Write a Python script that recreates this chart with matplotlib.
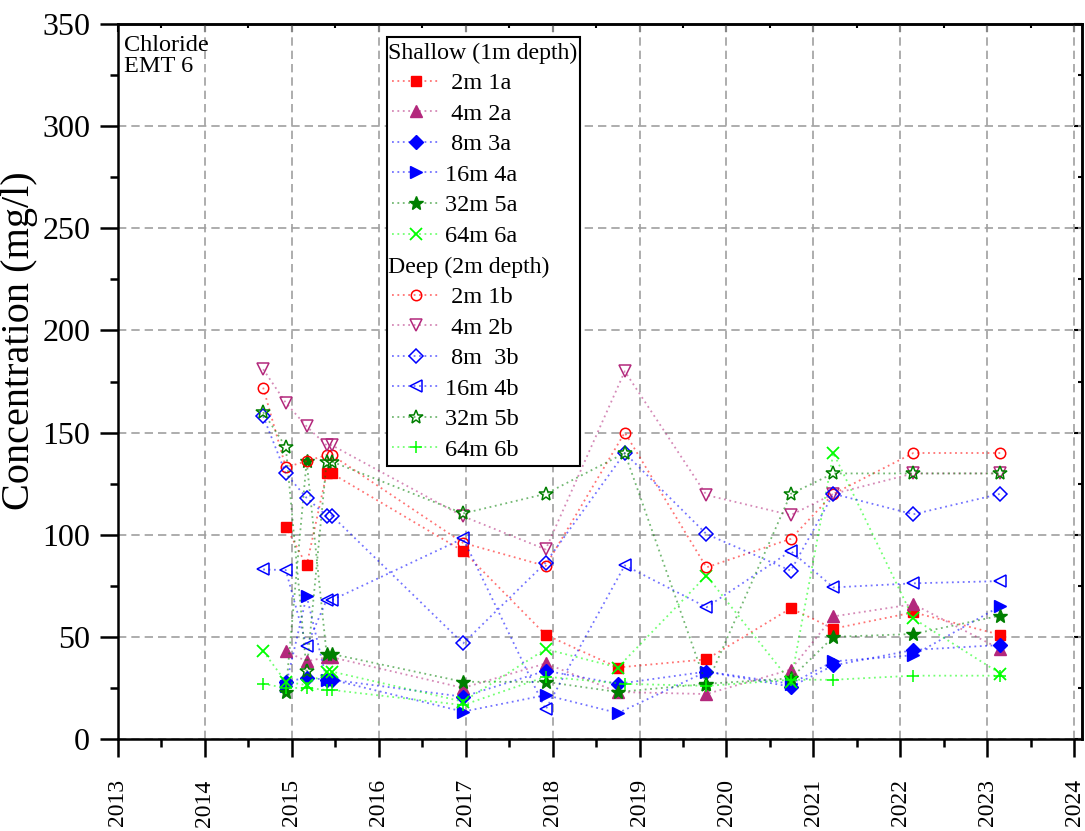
import numpy as np
import matplotlib.pyplot as plt
import matplotlib.colors as mc
from matplotlib.lines import Line2D
from matplotlib.ticker import MultipleLocator

plt.rcParams['font.family'] = ['Liberation Serif', 'DejaVu Serif']

nan = np.nan

# sampling dates (decimal years); the late-2018 round was a few days apart
dates_a = [2014.67, 2014.93, 2015.17, 2015.40, 2015.46, 2016.97, 2017.92,
           2018.75, 2019.77, 2020.74, 2021.23, 2022.15, 2023.15]
dates_b = [2014.67, 2014.93, 2015.17, 2015.40, 2015.46, 2016.97, 2017.92,
           2018.83, 2019.77, 2020.74, 2021.23, 2022.15, 2023.15]

# shallow wells (1m depth), chloride mg/l
cl_1a = [nan, 104, 85, 130, 130, 92, 51, 35, 39, 64, 54, 62, 51]
cl_2a = [nan, 43, 38, 40, 40, 25, 37, 23, 22, 34, 60, 66, 44]
cl_3a = [nan, 28, 30, 29, 29, 20.7, 33.4, 27, 33, 25.6, 36, 43.6, 46]
cl_4a = [nan, 26, 70, 29, 29, 13.4, 21.5, 12.7, 33, 27, 38, 41, 65]
cl_5a = [nan, 23, 136, 41.6, 41.6, 28, 28, 23, 27, 29.7, 50, 51.4, 60.4]
cl_6a = [43, 28, 26.4, 33, 33, 18.3, 44, 35, 80, 28, 140, 59, 32]

# deep wells (2m depth)
cl_1b = [172, 133, 136, 139, 139, 96, 84.7, 150, 84, 98, 120, 140, 140]
cl_2b = [181, 164.6, 153, 143.8, 143.8, 109, 92.8, 180, 119.4, 109.6, 120, 130, 130]
cl_3b = [158, 130, 118, 109.3, 109.3, 46.8, 86.3, 140, 100.3, 82.4, 120, 110, 120]
cl_4b = [83, 82.7, 45.5, 68, 68, 98.2, 14.5, 85, 64.5, 92, 74.2, 76.2, 77.3]
cl_5b = [160, 143, 33.4, 135.8, 135.8, 110.4, 120, 140, 26.4, 120, 130, 130, 130]
cl_6b = [27, 25, 25, 24, 24, 16.6, 30.5, 27, 26, 29, 29, 31, 31]

labels_a = [' 2m 1a', ' 4m 2a', ' 8m 3a', '16m 4a', '32m 5a', '64m 6a']
labels_b = [' 2m 1b', ' 4m 2b', ' 8m  3b', '16m 4b', '32m 5b', '64m 6b']

colors = ['#ff0000', '#b3287c', '#0000ff', '#0000ff', '#007f00', '#00ff00']
markers_a = ['s', '^', 'D', '>', '*', 'x']
markers_b = ['o', 'v', 'D', '<', '*', '+']
msize_a = [7, 8.5, 7, 8.5, 10, 8]
msize_b = [7.5, 8.5, 7, 8.5, 10, 9]

fig = plt.figure(figsize=(10.85, 8.31), dpi=100)
ax = fig.add_axes([118 / 1085, 92 / 831, 964 / 1085, 715 / 831])


def line_rgba(c, a=0.55):
    r, g, b = mc.to_rgb(c)
    return (r, g, b, a)


def draw(dates, vals, marker, color, ms, filled, label):
    x = np.array(dates)
    y = np.array(vals, dtype=float)
    ok = ~np.isnan(y)
    kw = dict(color=line_rgba(color), linestyle=(0, (1, 2)), linewidth=1.3,
              marker=marker, markersize=ms, markeredgecolor=color,
              label=label, zorder=3)
    if filled:
        kw.update(markerfacecolor=color, markeredgewidth=1.0)
        if marker in ('x', '+'):
            kw.update(markeredgewidth=1.3)
    else:
        kw.update(markerfacecolor='none', markeredgewidth=1.1)
    return ax.plot(x[ok], y[ok], **kw)[0]


shallow = [cl_1a, cl_2a, cl_3a, cl_4a, cl_5a, cl_6a]
deep = [cl_1b, cl_2b, cl_3b, cl_4b, cl_5b, cl_6b]

h_a = [draw(dates_a, v, m, c, s, True, l)
       for v, m, c, s, l in zip(shallow, markers_a, colors, msize_a, labels_a)]
h_b = [draw(dates_b, v, m, c, s, False, l)
       for v, m, c, s, l in zip(deep, markers_b, colors, msize_b, labels_b)]

ax.set_xlim(2013, 2024.09)
ax.set_ylim(0, 350)
ax.xaxis.set_minor_locator(MultipleLocator(0.5))
ax.yaxis.set_major_locator(MultipleLocator(50))
ax.yaxis.set_minor_locator(MultipleLocator(25))
ax.set_xticks(np.arange(2013, 2025))
ax.set_xticklabels([str(y) for y in range(2013, 2025)], rotation=90, fontsize=17)
ax.tick_params(axis='y', labelsize=23)
ax.tick_params(which='major', direction='out', length=13, width=1.8)
ax.tick_params(which='minor', direction='out', length=6, width=1.8)
ax.tick_params(axis='x', which='major', pad=16)
ax.tick_params(axis='y', which='major', pad=7)

ax.grid(True, which='major', color='#a0a0a0', linestyle=(0, (5, 3)), linewidth=1.2)
ax.set_axisbelow(True)
for sp in ax.spines.values():
    sp.set_linewidth(1.8)

# inward ticks on the top and right spines
top = ax.secondary_xaxis('top')
top.set_xticks(np.arange(2013, 2025))
top.xaxis.set_minor_locator(MultipleLocator(0.5))
top.tick_params(which='both', direction='in', labeltop=False, width=1.5)
top.tick_params(which='major', length=6)
top.tick_params(which='minor', length=3)
top.spines['top'].set_linewidth(1.8)
right = ax.secondary_yaxis('right')
right.yaxis.set_major_locator(MultipleLocator(50))
right.yaxis.set_minor_locator(MultipleLocator(25))
right.tick_params(which='both', direction='in', labelright=False, width=1.5)
right.tick_params(which='major', length=6)
right.tick_params(which='minor', length=3)
right.spines['right'].set_linewidth(1.8)

ax.set_ylabel('Concentration (mg/l)', fontsize=29)
ax.yaxis.set_label_coords(-0.083, 0.557)

ax.text(0.006, 0.985, 'Chloride\nEMT 6', transform=ax.transAxes, ha='left',
        va='top', fontsize=17.5, linespacing=1.0)

# legend with two handle-less group headers (blank rows, text put on top)
blank = Line2D([], [], linestyle='none')
headers = ['Shallow (1m depth)', 'Deep (2m depth)']
handles = [blank] + h_a + [blank] + h_b
labels = [' '] + labels_a + [' '] + labels_b
leg = ax.legend(handles, labels, loc='upper left',
                bbox_to_anchor=(0.279, 0.0, 0.2002, 0.9818), mode='expand',
                borderaxespad=0, fontsize=17.5, handlelength=1.95,
                handletextpad=0.25, borderpad=0.2, labelspacing=0.35,
                numpoints=1, fancybox=False, framealpha=1, edgecolor='black')
leg.get_frame().set_linewidth(1.5)
leg.set_zorder(10)
texts = leg.get_texts()
hdr_texts = [texts[0], texts[7]]

fig.canvas.draw()
fb = leg.get_frame().get_window_extent()
W, H = fig.bbox.width, fig.bbox.height
for t, s in zip(hdr_texts, headers):
    bb = t.get_window_extent()
    fig.text((fb.x0 + 1) / W, (bb.y0 + bb.y1) / 2 / H, s, fontsize=17.2,
             ha='left', va='center', zorder=11)

fig.savefig('out.png', dpi=100)
